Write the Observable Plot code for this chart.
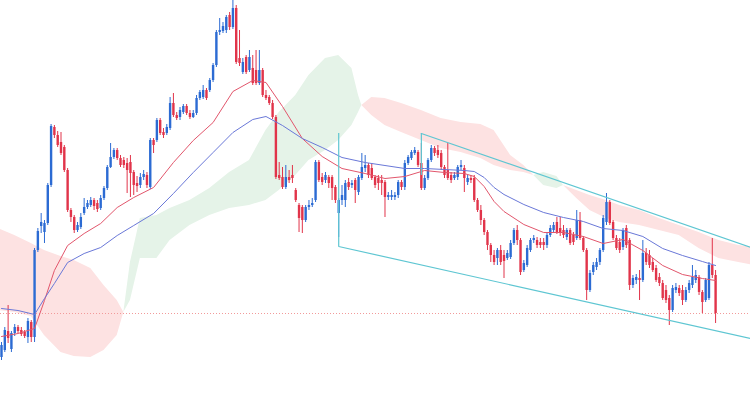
<!DOCTYPE html>
<html><head><meta charset="utf-8">
<script src="https://cdn.jsdelivr.net/npm/d3@7"></script>
<script src="https://cdn.jsdelivr.net/npm/@observablehq/plot@0.6"></script>
<style>
html,body{margin:0;padding:0;background:#fff;}
#chart{width:750px;height:400px;overflow:hidden;}
#chart svg{overflow:hidden;display:block;}
</style></head><body><div id="chart"></div>
<script>
// ---- candles (bar index = position in arrays) ----
const open = [43,50,69,51,67,73,70,68,63,78, 63,150,174,168,177,215,273,265,258,253, 230,190,183,170,173,187,193,195,200,197, 192,202,212,233,243,250,242,240,237,238, 228,217,215,223,225,213,260,260,280,268, 267,272,297,285,283,288,294,287,283,287, 302,303,310,310,320,335,368,369,370,385, 373,392,342,328,343,330,332,330,317,330, 305,303,297,283,225,223,213,223,225,210, 195,193,180,193,195,200,238,223,220,223, 223,213,187,200,200,218,215,220,208,222, 232,235,232,223,222,220,218,203,203,203, 205,218,213,237,242,247,248,237,212,222, 240,252,250,247,233,230,225,222,223,233, 232,218,222,222,200,190,180,168,155,145, 142,150,145,142,143,157,170,160,130,135, 150,160,160,158,158,155,165,170,178,172, 170,163,170,165,162,180,162,150,110,128, 133,138,150,178,198,178,162,158,153,172, 160,115,120,122,120,147,145,138,132,123, 117,110,102,90,110,112,110,100,110,115, 120,123,108,100,102,135,125];
const close = [55,70,62,67,73,69,66,64,79,63, 150,169,178,177,215,274,265,255,247,230, 190,183,170,175,183,193,197,200,194,191, 202,212,233,243,250,242,235,235,230,227, 215,214,223,226,215,260,255,280,267,265, 273,297,285,282,290,294,287,283,287,302, 308,310,302,320,335,368,370,374,383,373, 392,338,337,338,328,343,317,317,330,305, 302,297,283,223,222,213,223,220,222,200, 182,180,193,195,197,238,220,218,225,217, 212,200,200,205,217,213,217,210,223,233, 235,225,222,215,217,217,203,205,205,205, 218,213,237,243,248,250,235,212,222,240, 252,247,245,233,225,222,220,225,233,235, 222,222,220,200,190,180,168,155,145,138, 150,138,139,147,157,170,160,128,137,152, 160,162,155,155,155,165,172,175,168,167, 165,170,157,158,180,162,150,110,127,135, 138,150,182,198,177,162,152,150,170,155, 115,122,123,120,147,138,135,130,120,117, 102,100,90,112,113,107,100,110,117,123, 125,108,98,120,135,125,87];
const high = [58,73,95,69,76,75,73,70,82,80, 152,172,187,180,217,276,275,269,268,255, 232,192,185,178,187,202,200,203,202,200, 205,214,235,257,252,252,245,243,242,245, 230,224,227,230,228,262,262,282,282,272, 276,303,307,288,293,296,296,290,290,305, 310,315,312,322,337,370,382,378,385,388, 400,395,370,342,345,350,345,350,350,332, 310,305,300,285,238,233,235,230,235,212, 197,195,195,200,202,240,240,227,228,225, 225,215,202,215,220,222,220,222,225,247, 245,237,237,225,225,225,220,208,210,208, 220,220,240,245,250,253,250,257,225,242, 255,254,255,250,235,257,228,228,235,240, 235,225,225,225,202,195,182,170,157,150, 152,155,150,150,160,172,175,162,140,155, 162,165,163,162,162,168,175,178,183,183, 175,172,172,168,190,188,164,152,130,138, 142,152,185,207,200,180,165,162,172,175, 162,125,126,130,160,152,150,142,135,127, 120,115,105,115,117,115,115,113,120,135, 130,125,110,122,138,162,130];
const low = [40,48,57,48,64,67,64,62,57,58, 58,148,167,157,175,213,262,253,245,228, 188,178,167,168,171,185,191,193,190,188, 190,200,210,232,241,240,233,232,207,203, 205,208,212,220,212,211,247,258,265,262, 265,270,283,280,280,286,285,281,282,285, 300,301,300,308,318,333,365,367,367,370, 371,336,334,326,326,328,315,315,315,303, 300,295,281,221,220,211,211,217,217,198, 168,167,178,190,193,198,218,215,217,212, 200,197,163,195,193,210,212,197,205,220, 228,222,220,212,210,205,183,200,200,200, 202,210,210,235,240,245,233,210,210,220, 238,244,242,230,222,220,217,220,220,230, 208,215,217,198,188,175,165,150,138,135, 135,135,122,140,141,155,155,125,128,133, 148,157,152,152,150,152,163,168,166,164, 162,160,155,155,160,160,148,100,108,125, 130,135,148,175,175,160,150,147,150,152, 110,112,116,100,118,135,132,128,118,114, 100,97,75,88,107,104,95,98,107,112, 117,105,87,98,100,122,77];

// ---- moving averages (read at these bar indices) ----
const maIdx  = [0,5,10,13,16,20,25,30,35,40,46,52,58,64,70,76,80,85,91,97,103,110,116,122,128,134,140,143,146,149,152,158,164,170,176,182,188,194,200,206,212,216];
const maFast = [64,67,72,100,130,155,167,177,193,203,213,238,260,278,309,320,318,294,262,244,232,227,222,224,230,228,227,224,214,199,189,176,168,168,164,157,161,150,135,126,122,120];
const maSlow = [92,90,86,102,117,138,147,153,165,175,187,207,228,248,268,281,284,275,262,253,243,238,235,232,232,231,230,229,223,213,206,196,188,183,179,172,170,164,152,145,139,135];

// ---- Ichimoku cloud (leading spans, read at these bar indices) ----
const cloudIdx = [-1,4,9,13,18,22,27,31,35,37,39,42,47,51,57,63,69,75,80,84,89,93,98,102,106,108,109,112,116,121,127,133,139,145,149,154,158,161,164,168,170,174,178,183,187,193,199,205,211,217,223,228];
const spanA = [90,88,84,65,48,44,43,50,65,88,138,182,185,192,200,212,228,240,270,288,305,325,342,345,332,305,295,285,275,268,260,252,248,242,235,230,228,225,228,224,215,202,190,182,178,175,170,165,152,142,138,135];
const spanB = [172,165,157,150,144,140,132,115,100,88,100,142,142,160,175,185,192,195,200,210,225,240,250,260,275,288,295,303,302,297,290,282,278,276,270,245,235,225,215,212,215,210,205,200,195,190,182,175,168,160,155,153];

// ---- drawn channel and price line ----
const lowerLineIdx = [102, 228], lowerLinePrice = [154, 61];
const upperLineIdx = [127, 228], upperLinePrice = [267, 151.5];
const anchorIdx = [102, 127], anchorTop = [267, 267], anchorBottom = [154, 225];
const priceLevel = 87;

const UP = "#2c6bd3", DOWN = "#e1344a";
const candles = open.map((o, i) => ({i, o, c: close[i], h: high[i], l: low[i], col: close[i] >= o ? UP : DOWN}));
const cloud = cloudIdx.map((i, k) => ({i, a: spanA[k], b: spanB[k], m: Math.max(spanA[k], spanB[k])}));
const fast = maIdx.map((i, k) => ({i, v: maFast[k]}));
const slow = maIdx.map((i, k) => ({i, v: maSlow[k]}));
const lower = lowerLineIdx.map((i, k) => ({i, v: lowerLinePrice[k]}));
const upper = upperLineIdx.map((i, k) => ({i, v: upperLinePrice[k]}));
const anchors = anchorIdx.map((i, k) => ({i, t: anchorTop[k], b: anchorBottom[k]}));

const chart = Plot.plot({
  width: 750, height: 400, margin: 0,
  style: {background: "#ffffff", overflow: "hidden"},
  x: {domain: [-0.3025, 226.56], axis: null},
  y: {domain: [0, 400], axis: null},
  marks: [
    Plot.areaY(cloud, {x: "i", y1: "b", y2: "m", fill: "#e5f3e8"}),
    Plot.areaY(cloud, {x: "i", y1: "a", y2: "m", fill: "#fde2e2"}),
    Plot.ruleY([priceLevel], {stroke: "#f29a9a", strokeWidth: 1, strokeDasharray: "1,2"}),
    Plot.ruleX(candles, {x: "i", y1: "l", y2: "h", stroke: "col", strokeWidth: 1}),
    Plot.ruleX(candles, {x: "i", y1: "o", y2: "c", stroke: "col", strokeWidth: 2.4}),
    Plot.line(fast, {x: "i", y: "v", stroke: "#e2566c", strokeWidth: 1}),
    Plot.line(slow, {x: "i", y: "v", stroke: "#6a78d8", strokeWidth: 1}),
    Plot.line(lower, {x: "i", y: "v", stroke: "#5ec6d2", strokeWidth: 1.2}),
    Plot.line(upper, {x: "i", y: "v", stroke: "#5ec6d2", strokeWidth: 1.2}),
    Plot.ruleX(anchors, {x: "i", y1: "b", y2: "t", stroke: "#5ec6d2", strokeWidth: 1.2})
  ]
});
document.getElementById("chart").appendChild(chart);
</script></body></html>
